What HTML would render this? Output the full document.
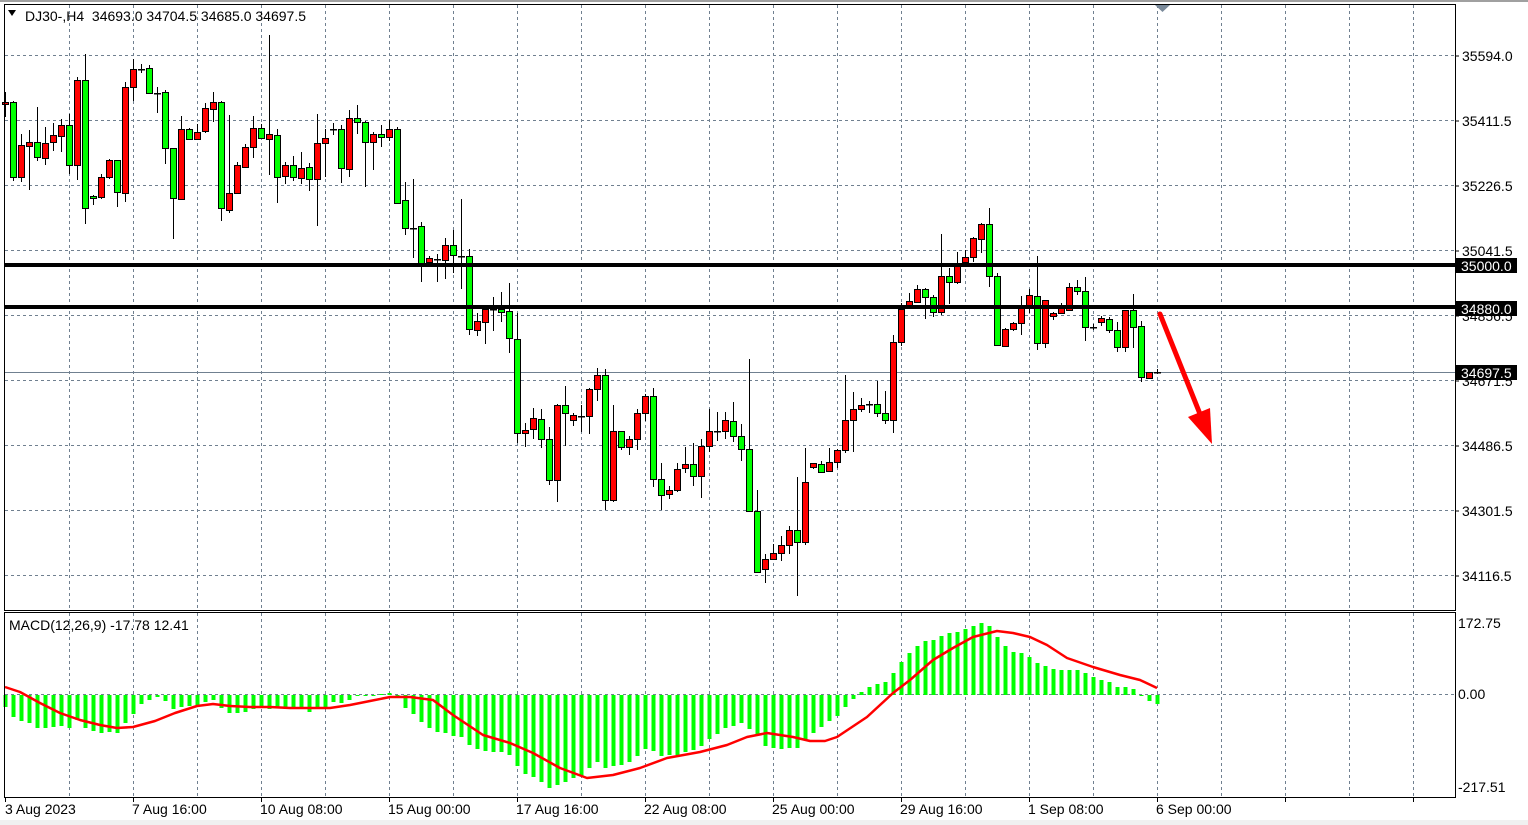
<!DOCTYPE html>
<html><head><meta charset="utf-8"><style>
html,body{margin:0;padding:0;background:#fff;}
svg{display:block;font-family:"Liberation Sans",sans-serif;}
text{white-space:pre;}
</style></head><body>
<svg id="c" width="1528" height="825" xmlns="http://www.w3.org/2000/svg">
<rect x="0" y="0" width="1528" height="825" fill="#fff"/>
<rect x="0" y="0" width="1528" height="2" fill="#a0a0a0"/>
<rect x="0" y="820" width="1528" height="5" fill="#f0f0f0"/>
<g id="grid" stroke="#708090" stroke-width="1" stroke-dasharray="3,3"></g>
<line x1="5" y1="372.5" x2="1455" y2="372.5" stroke="#708090" stroke-width="1"/>
<g id="macd"></g>
<g id="candles"></g>
<rect x="5" y="263" width="1450" height="4" fill="#000"/>
<rect x="5" y="305" width="1450" height="4" fill="#000"/>
<rect x="4.5" y="4.5" width="1451" height="606" fill="none" stroke="#000"/>
<rect x="4.5" y="612.5" width="1451" height="185" fill="none" stroke="#000"/>
<polygon points="1155,5 1170,5 1162.5,12" fill="#7a8a9a"/>
<g fill="#000" font-size="14">
<text x="1462" y="61">35594.0</text>
<text x="1462" y="126">35411.5</text>
<text x="1462" y="191">35226.5</text>
<text x="1462" y="256">35041.5</text>
<text x="1462" y="321">34856.5</text>
<text x="1462" y="386">34671.5</text>
<text x="1462" y="451">34486.5</text>
<text x="1462" y="516">34301.5</text>
<text x="1462" y="581">34116.5</text>
<text x="1458" y="628">172.75</text>
<text x="1458" y="699">0.00</text>
<text x="1458" y="792">-217.51</text>
</g>
<g stroke="#000"><line x1="1455" y1="56" x2="1459" y2="56"/><line x1="1455" y1="121" x2="1459" y2="121"/><line x1="1455" y1="186" x2="1459" y2="186"/><line x1="1455" y1="251" x2="1459" y2="251"/><line x1="1455" y1="316" x2="1459" y2="316"/><line x1="1455" y1="381" x2="1459" y2="381"/><line x1="1455" y1="446" x2="1459" y2="446"/><line x1="1455" y1="511" x2="1459" y2="511"/><line x1="1455" y1="576" x2="1459" y2="576"/></g>
<rect x="1456" y="258" width="61" height="15" fill="#000"/>
<text x="1461" y="271" fill="#fff" font-size="14">35000.0</text>
<rect x="1456" y="301" width="61" height="15" fill="#000"/>
<text x="1461" y="314" fill="#fff" font-size="14">34880.0</text>
<rect x="1456" y="365" width="61" height="15" fill="#000"/>
<text x="1461" y="378" fill="#fff" font-size="14">34697.5</text>
<g font-size="14" fill="#000">
<text x="5" y="814">3 Aug 2023</text>
<text x="132" y="814">7 Aug 16:00</text>
<text x="260" y="814">10 Aug 08:00</text>
<text x="388" y="814">15 Aug 00:00</text>
<text x="516" y="814">17 Aug 16:00</text>
<text x="644" y="814">22 Aug 08:00</text>
<text x="772" y="814">25 Aug 00:00</text>
<text x="900" y="814">29 Aug 16:00</text>
<text x="1028" y="814">1 Sep 08:00</text>
<text x="1156" y="814">6 Sep 00:00</text>
</g>
<g stroke="#000" id="bt"></g>
<polygon points="8,10 16,10 12,16" fill="#000"/>
<text x="25" y="21" font-size="14" fill="#000" xml:space="preserve">DJ30-,H4  34693.0 34704.5 34685.0 34697.5</text>
<text x="9" y="630" font-size="14" fill="#000">MACD(12,26,9) -17.78 12.41</text>
<line x1="1160" y1="314" x2="1200" y2="414" stroke="#ff0000" stroke-width="5" stroke-linecap="round"/>
<polygon points="1188,417 1210,408 1212,444" fill="#ff0000"/>
</svg>
<script>
var NS="http://www.w3.org/2000/svg";
function el(p,t,a){var e=document.createElementNS(NS,t);for(var k in a)e.setAttribute(k,a[k]);p.appendChild(e);return e;}
var g=document.getElementById('grid');
[55,120,185,250,315,380,445,510,575].forEach(function(y){el(g,'line',{x1:5,y1:y+.5,x2:1455,y2:y+.5});});
for(var x=69;x<1455;x+=64){el(g,'line',{x1:x+.5,y1:5,x2:x+.5,y2:610});el(g,'line',{x1:x+.5,y1:613,x2:x+.5,y2:797});}
el(g,'line',{x1:5,y1:694.5,x2:1455,y2:694.5});
var bt=document.getElementById('bt');
for(var x=5;x<1455;x+=128){el(bt,'line',{x1:x+.5,y1:797,x2:x+.5,y2:802});}
var D="102,104,92,117,r|102,177,101,181,g|145,177,134,182,r|142,146,130,190,r|142,157,107,161,g|143,158,127,165,r|135,142,123,151,r|125,136,119,152,r|125,165,114,174,g|80,165,77,180,r|80,208,54,224,g|196,198,195,205,g|177,197,174,199,r|160,177,159,179,r|160,192,160,207,g|87,193,82,202,r|69,87,59,101,r|69,69,64,73,d|68,93,65,94,g|93,93,87,113,d|92,148,90,164,g|148,198,148,239,g|129,199,116,199,r|129,139,128,140,g|132,139,124,140,r|108,131,103,133,r|102,109,92,122,r|102,208,101,221,g|193,210,115,213,r|165,193,162,193,r|147,167,144,168,r|128,147,116,158,r|128,138,124,139,g|134,139,35,175,r|135,177,129,203,g|165,176,162,184,r|165,177,156,181,g|168,178,152,184,r|167,179,163,191,g|143,179,114,226,r|138,143,129,177,r|129,129,123,135,d|129,168,125,183,g|118,169,110,177,r|118,122,105,134,g|122,142,121,187,g|134,142,132,170,r|134,137,125,147,g|129,137,120,141,r|129,203,127,203,g|200,228,182,235,g|228,228,179,258,d|226,263,222,282,g|258,262,256,267,r|259,259,254,282,d|245,260,238,279,r|245,255,230,273,g|256,256,199,289,d|256,329,249,335,g|321,330,313,336,r|309,322,308,344,r|309,309,297,331,d|309,312,292,322,g|311,338,283,353,g|339,433,313,443,g|430,433,423,447,r|418,429,408,439,r|419,439,409,448,g|439,480,427,485,g|405,480,404,502,r|405,413,386,446,g|415,420,413,426,r|416,416,405,432,d|389,416,388,434,r|375,389,368,401,r|375,500,369,510,g|431,500,405,502,r|431,447,431,450,g|439,447,436,455,r|413,439,409,450,r|396,413,394,421,r|396,479,388,487,g|479,495,463,510,g|490,494,486,499,r|469,490,463,492,r|464,468,447,473,r|464,476,443,486,g|446,476,439,498,r|431,446,409,452,r|431,431,412,441,d|420,431,412,439,r|421,436,402,442,g|436,449,424,461,g|449,511,359,512,g|511,572,490,573,g|559,569,554,583,r|553,559,544,560,r|545,553,536,561,r|530,545,526,554,r|530,542,477,596,g|482,542,448,545,r|463,467,463,469,r|464,472,461,473,g|462,471,448,472,r|450,462,449,468,r|420,450,375,453,r|409,420,392,452,r|405,409,398,412,r|404,404,401,413,d|404,413,381,417,g|413,420,391,424,g|342,420,335,433,r|309,342,303,346,r|301,307,293,307,r|289,302,285,303,r|289,297,288,319,g|297,312,295,317,g|276,312,234,315,r|276,282,268,304,g|265,282,252,284,r|257,262,250,263,r|238,257,237,262,r|224,239,223,253,r|224,276,208,287,g|276,345,273,346,g|329,346,328,347,r|323,329,322,331,r|308,323,296,335,r|295,306,289,313,r|296,343,256,350,g|300,343,300,348,r|313,316,312,320,r|308,313,303,313,r|287,310,283,310,r|287,291,280,295,g|291,327,277,341,g|327,327,324,330,d|318,322,316,326,r|319,330,317,333,g|330,347,322,352,g|310,347,310,352,r|310,327,294,348,g|326,377,321,382,g|372,378,372,379,r|372,372,369,374,d".split('|');
var cg=document.getElementById('candles');
D.forEach(function(s,i){var a=s.split(',');var x=5+8*i;var bt=+a[0],bb=+a[1],wt=+a[2],wb=+a[3],c=a[4];
el(cg,'rect',{x:x,y:wt,width:1,height:Math.max(1,wb-wt),fill:'#000'});
if(c=='d'||bb-bt<1){el(cg,'rect',{x:x-3,y:bt,width:7,height:1.5,fill:'#000'});}
else{el(cg,'rect',{x:x-2.5,y:bt+.5,width:6,height:bb-bt,fill:c=='r'?'#ff0000':'#00ff00',stroke:'#000','stroke-width':1});}
});
var H=[12,22,26,28,33,33,32,31,33,25,33,36,38,37,38,28,19,9,5,2,6,14,12,11,10,7,5,13,18,18,17,14,13,14,13,14,14,14,17,14,12,7,8,5,1,1,0,-1,-2,3,
13,19,27,33,37,38,41,42,50,54,56,57,57,60,71,79,82,87,93,90,87,83,81,73,67,73,71,70,67,61,54,56,61,60,60,57,55,51,44,39,33,31,28,34,39,51,53,54,53,53,
44,38,32,26,21,12,4,-3,-8,-11,-13,-22,-33,-42,-49,-54,-55,-59,-62,-63,-66,-69,-72,-69,-58,-49,-43,-42,-38,-32,-29,-26,-25,-25,-25,-22,-18,-15,-13,-8,-8,-6,0,6,9];
var mg=document.getElementById('macd');
H.forEach(function(h,i){var x=5+8*i;var y=h>=0?695:695+h;var hh=Math.max(1,Math.abs(h));el(mg,'rect',{x:x-1.5,y:y,width:4,height:hh,fill:'#00ff00'});});
var P="5,687 20,692 40,703 60,713 80,720 100,725 117,728 133,727 155,721 175,713 197,706 213,704 230,706 250,707 270,707 290,708 310,708 330,708 350,705 370,701 390,697 410,697 433,700 453,715 483,735 510,743 533,753 560,768 587,778 613,775 640,768 667,758 700,752 727,745 747,737 767,733 793,737 810,741 825,741 837,737 867,717 893,693 910,680 933,660 953,648 973,637 997,631 1013,633 1030,637 1047,645 1067,658 1093,667 1120,675 1140,680 1157,688";
el(mg,'polyline',{points:P,fill:'none',stroke:'#ff0000','stroke-width':2.5,'stroke-linejoin':'round'});
</script>
</body></html>
